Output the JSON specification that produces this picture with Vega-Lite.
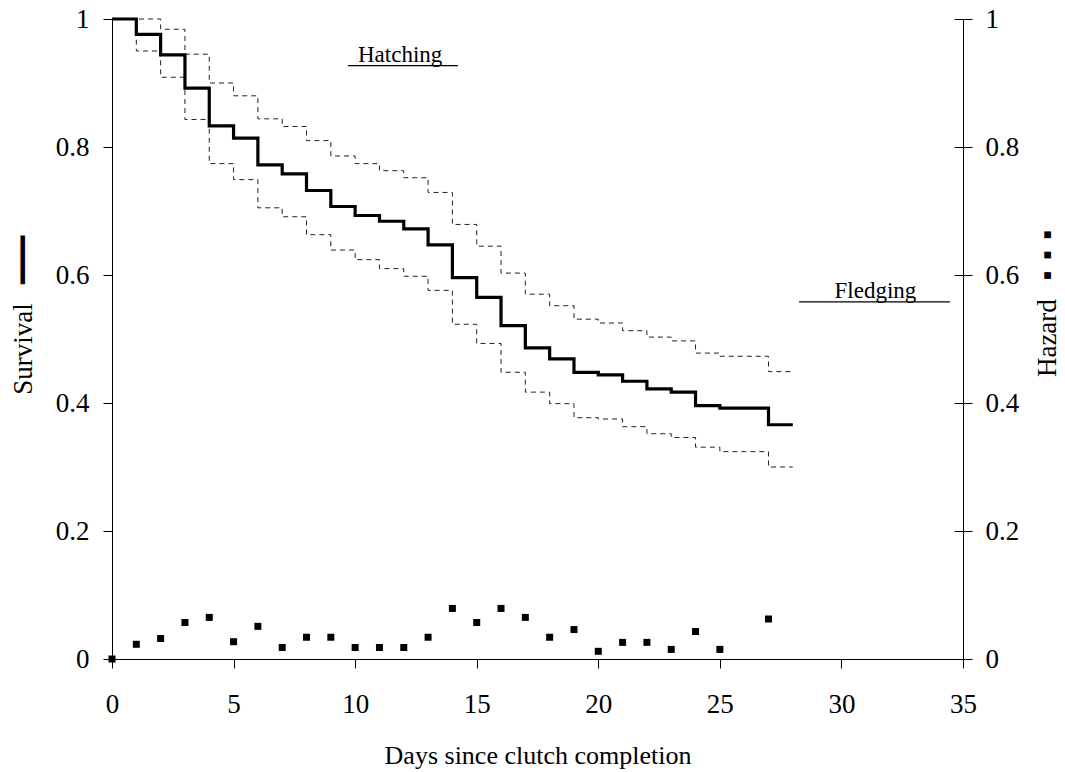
{
  "$schema": "https://vega.github.io/schema/vega-lite/v6.json",
  "width": 851,
  "height": 640,
  "autosize": {"type": "none"},
  "padding": {"left": 112, "top": 19, "right": 102, "bottom": 113},
  "background": "white",
  "config": {
    "view": {"stroke": null},
    "font": "Liberation Serif",
    "axis": {
      "grid": false,
      "domainColor": "black",
      "tickColor": "black",
      "labelColor": "black",
      "titleColor": "black",
      "labelFont": "Liberation Serif",
      "titleFont": "Liberation Serif",
      "labelFontSize": 27,
      "titleFontSize": 26,
      "titleFontWeight": "normal",
      "tickSize": 9,
      "domainWidth": 1,
      "tickWidth": 1,
      "labelFlush": false,
      "labelOverlap": false
    }
  },
  "datasets": {
    "surv": [
      {"day": 0, "survival": 1.0, "upper": 1.0, "lower": 1.0, "hazard": 0.0},
      {"day": 1, "survival": 0.976, "upper": 1.0, "lower": 0.95, "hazard": 0.023},
      {"day": 2, "survival": 0.944, "upper": 0.984, "lower": 0.909, "hazard": 0.032},
      {"day": 3, "survival": 0.892, "upper": 0.945, "lower": 0.843, "hazard": 0.057},
      {"day": 4, "survival": 0.833, "upper": 0.9, "lower": 0.774, "hazard": 0.065},
      {"day": 5, "survival": 0.814, "upper": 0.88, "lower": 0.749, "hazard": 0.027},
      {"day": 6, "survival": 0.772, "upper": 0.844, "lower": 0.705, "hazard": 0.051},
      {"day": 7, "survival": 0.758, "upper": 0.832, "lower": 0.691, "hazard": 0.018},
      {"day": 8, "survival": 0.732, "upper": 0.81, "lower": 0.663, "hazard": 0.034},
      {"day": 9, "survival": 0.707, "upper": 0.786, "lower": 0.639, "hazard": 0.034},
      {"day": 10, "survival": 0.693, "upper": 0.774, "lower": 0.624, "hazard": 0.018},
      {"day": 11, "survival": 0.684, "upper": 0.763, "lower": 0.61, "hazard": 0.018},
      {"day": 12, "survival": 0.672, "upper": 0.752, "lower": 0.598, "hazard": 0.018},
      {"day": 13, "survival": 0.647, "upper": 0.729, "lower": 0.576, "hazard": 0.034},
      {"day": 14, "survival": 0.596, "upper": 0.679, "lower": 0.523, "hazard": 0.079},
      {"day": 15, "survival": 0.565, "upper": 0.645, "lower": 0.493, "hazard": 0.057},
      {"day": 16, "survival": 0.521, "upper": 0.603, "lower": 0.448, "hazard": 0.079},
      {"day": 17, "survival": 0.486, "upper": 0.57, "lower": 0.417, "hazard": 0.065},
      {"day": 18, "survival": 0.469, "upper": 0.552, "lower": 0.399, "hazard": 0.034},
      {"day": 19, "survival": 0.448, "upper": 0.531, "lower": 0.377, "hazard": 0.046},
      {"day": 20, "survival": 0.444, "upper": 0.525, "lower": 0.375, "hazard": 0.012},
      {"day": 21, "survival": 0.434, "upper": 0.513, "lower": 0.363, "hazard": 0.026},
      {"day": 22, "survival": 0.422, "upper": 0.503, "lower": 0.352, "hazard": 0.026},
      {"day": 23, "survival": 0.417, "upper": 0.497, "lower": 0.346, "hazard": 0.015},
      {"day": 24, "survival": 0.396, "upper": 0.478, "lower": 0.331, "hazard": 0.043},
      {"day": 25, "survival": 0.392, "upper": 0.473, "lower": 0.324, "hazard": 0.015},
      {"day": 26, "survival": 0.392, "upper": 0.473, "lower": 0.324, "hazard": null},
      {"day": 27, "survival": 0.366, "upper": 0.449, "lower": 0.3, "hazard": 0.0625},
      {"day": 28, "survival": 0.366, "upper": 0.449, "lower": 0.3, "hazard": null}
    ],
    "notes": [
      {"label": "Hatching", "start": 9.7, "end": 14.23, "mid": 11.85, "level": 0.927},
      {"label": "Fledging", "start": 28.26, "end": 34.46, "mid": 31.4, "level": 0.558}
    ]
  },
  "resolve": {"scale": {"y": "independent"}},
  "layer": [
    {
      "encoding": {
        "x": {
          "field": "day",
          "type": "quantitative",
          "scale": {"domain": [0, 35], "nice": false},
          "axis": {
            "title": "Days since clutch completion",
            "values": [0, 5, 10, 15, 20, 25, 30, 35],
            "format": "d",
            "labelBaseline": "alphabetic",
            "labelPadding": 44,
            "titleBaseline": "alphabetic",
            "titleY": 104,
            "titleFontSize": 26
          }
        }
      },
      "layer": [
        {
          "data": {"name": "surv"},
          "mark": {"type": "line", "interpolate": "step-after", "color": "#222222", "strokeWidth": 1, "strokeDash": [5, 4]},
          "encoding": {
            "y": {
              "field": "upper",
              "type": "quantitative",
              "scale": {"domain": [0, 1], "nice": false},
              "axis": {
                "title": "Survival\u2002\u2009━━━",
                "values": [0, 0.2, 0.4, 0.6, 0.8, 1],
                "format": "~g",
                "labelPadding": 14,
                "titleFontSize": 27,
                "titleAngle": 270,
                "titleX": -89,
                "titleY": 296,
                "titleBaseline": "middle",
                "titleAlign": "center"
              }
            }
          }
        },
        {
          "data": {"name": "surv"},
          "mark": {"type": "line", "interpolate": "step-after", "color": "#222222", "strokeWidth": 1, "strokeDash": [5, 4]},
          "encoding": {"y": {"field": "lower", "type": "quantitative"}}
        },
        {
          "data": {"name": "surv"},
          "mark": {"type": "line", "interpolate": "step-after", "color": "black", "strokeWidth": 3.2},
          "encoding": {"y": {"field": "survival", "type": "quantitative"}}
        },
        {
          "data": {"name": "notes"},
          "mark": {"type": "rule", "color": "black", "strokeWidth": 1.3},
          "encoding": {
            "x": {"field": "start", "type": "quantitative"},
            "x2": {"field": "end"},
            "y": {"field": "level", "type": "quantitative"}
          }
        },
        {
          "data": {"name": "notes"},
          "mark": {"type": "text", "font": "Liberation Serif", "fontSize": 23, "color": "black", "align": "center", "baseline": "alphabetic", "dy": -4},
          "encoding": {
            "x": {"field": "mid", "type": "quantitative"},
            "y": {"field": "level", "type": "quantitative"},
            "text": {"field": "label"}
          }
        }
      ]
    },
    {
      "data": {"name": "surv"},
      "mark": {"type": "point", "shape": "square", "size": 49, "filled": true, "color": "black", "opacity": 1},
      "encoding": {
        "x": {"field": "day", "type": "quantitative"},
        "y": {
          "field": "hazard",
          "type": "quantitative",
          "scale": {"domain": [0, 1], "nice": false},
          "axis": {
            "orient": "right",
            "title": "Hazard\u2002\u2009▪\u2009\u2009▪\u2009\u2009▪",
            "values": [0, 0.2, 0.4, 0.6, 0.8, 1],
            "format": "~g",
            "labelPadding": 13,
            "titleFontSize": 27,
            "titleAngle": 270,
            "titleX": 84,
            "titleY": 284,
            "titleBaseline": "middle",
            "titleAlign": "center"
          }
        }
      }
    },
    {
      "data": {"name": "surv"},
      "mark": {"type": "point", "opacity": 0},
      "encoding": {
        "x": {"field": "day", "type": "quantitative"},
        "y": {
          "field": "upper",
          "type": "quantitative",
          "scale": {"domain": [0, 1], "nice": false},
          "axis": {
            "orient": "right",
            "title": null,
            "values": [0, 0.2, 0.4, 0.6, 0.8, 1],
            "labels": false,
            "domain": false,
            "tickSize": -9
          }
        }
      }
    }
  ]
}
